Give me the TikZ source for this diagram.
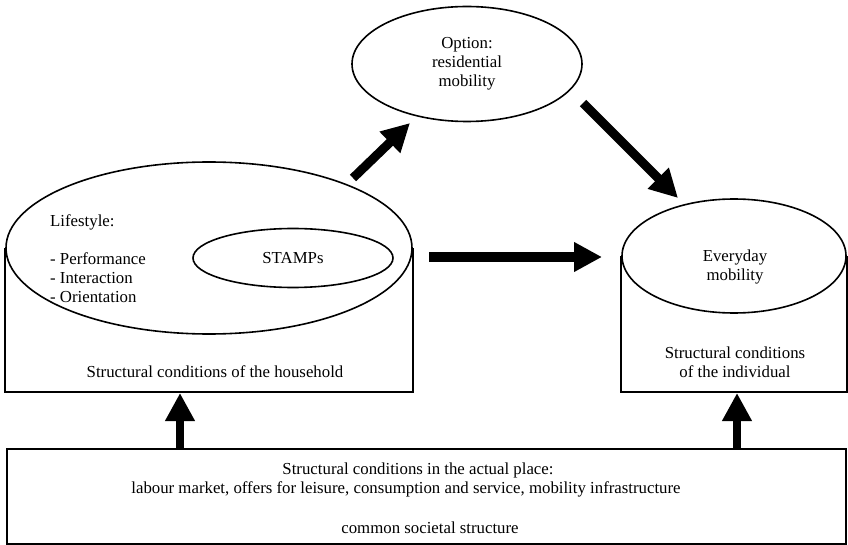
\documentclass[tikz,border=0pt]{standalone}
\usepackage{fontspec}
\setmainfont{Liberation Serif}
\usetikzlibrary{shapes.geometric,arrows.meta}
\begin{document}
\begin{tikzpicture}
[x=1pt,y=-1pt,
  ovaldecorate/.style={shape=ellipse,draw,line width=1.6pt,inner sep=0pt},%
  linedecorate/.style={-,line width=1.6pt},%
  textdecorate/.style={font=\fontsize{16.8}{19}\selectfont,inner sep=0pt},%
  arrowdecorate/.style={-{Triangle[length=28pt,width=28pt]},line width=9pt}]
\useasboundingbox (0,0) rectangle (848,545);
% ellipses and boxes
\node (house) at (209,248) [ovaldecorate,minimum width=406pt,minimum height=172pt] {};
\node (stamps) at (293,258) [ovaldecorate,textdecorate,minimum width=200pt,minimum height=59pt] {STAMPs};
\node (option) at (467,64) [ovaldecorate,textdecorate,align=center,minimum width=230pt,minimum height=115pt] {Option:\\residential\\mobility};
\node (daily) at (734,256) [ovaldecorate,minimum width=224pt,minimum height=114pt] {};
\node (place) at (426.5,496.5) [draw,line width=1.6pt,minimum width=839pt,minimum height=95pt] {};
% cylinder bodies
\draw[linedecorate] (house.west) -- ++(0,144) -| (house.east);
\draw[linedecorate] (daily.west) -- ++(0,136) -| (daily.east);
% texts
\node (life) at (50,258.5) [textdecorate,anchor=west,align=left] {Lifestyle:\\[19pt]- Performance\\- Interaction\\- Orientation};
\node (hhtext) at (215,372) [textdecorate] {Structural conditions of the household};
\node (dailytext) at (735,267) [textdecorate,align=center] {Everyday\\mobility};
\node (indtext) at (735,362.5) [textdecorate,align=center] {Structural conditions\\of the individual};
\node (place1) at (418,470) [textdecorate] {Structural conditions in the actual place:};
\node (place2) at (406,489) [textdecorate] {labour market, offers for leisure, consumption and service, mobility infrastructure};
\node (place3) at (430,528) [textdecorate] {common societal structure};
% arrow ends
\coordinate (move0) at (353,178);
\coordinate (move1) at (410,123);
\coordinate (shift0) at (583,103);
\coordinate (shift1) at (678,198);
\coordinate (flow0) at (429,257);
\coordinate (flow1) at (602,257);
\coordinate (up0) at (180,449);
\coordinate (up1) at (180,393);
\coordinate (up2) at (737,449);
\coordinate (up3) at (737,393);
% arrows
\draw[arrowdecorate] (move0) -- (move1);
\draw[arrowdecorate] (shift0) -- (shift1);
\draw[arrowdecorate,line width=10pt] (flow0) -- (flow1);
\draw[arrowdecorate,line width=8pt] (up0) -- (up1);
\draw[arrowdecorate,line width=8pt] (up2) -- (up3);
\end{tikzpicture}
\end{document}
